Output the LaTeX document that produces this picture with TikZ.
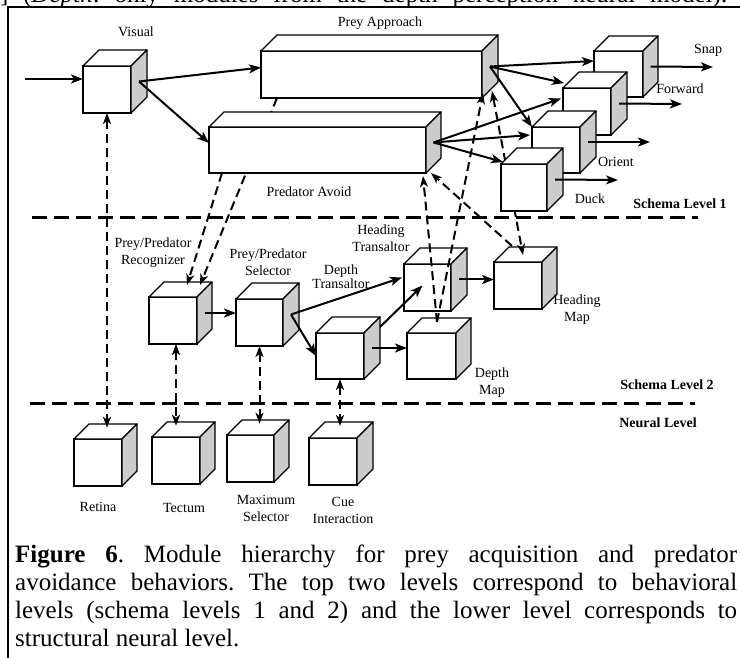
\documentclass[tikz,border=0pt]{standalone}
\usepackage{fontspec}
\setmainfont{Liberation Serif}
\usetikzlibrary{arrows.meta,calc}
\definecolor{sidegrey}{RGB}{204,204,204}
\tikzset{
  face/.style={draw, fill=white, line width=1.3pt, inner sep=0pt, outer sep=0pt, rectangle},
  edge/.style={line width=1.3pt, line join=round},
  flow/.style={line width=2pt, -{Stealth[length=12pt,width=9pt,inset=3pt]}},
  link/.style={line width=2pt, dash pattern=on 9pt off 5pt, -{Stealth[length=11pt,width=8pt,inset=3pt]}},
  twolink/.style={line width=2pt, dash pattern=on 9pt off 5pt,
    {Stealth[length=11pt,width=8pt,inset=3pt]}-{Stealth[length=11pt,width=8pt,inset=3pt]}},
  level/.style={line width=3pt, dash pattern=on 15pt off 7pt},
  frame/.style={line width=2pt},
  lbl/.style={font=\fontsize{14}{17}\selectfont, align=center, inner sep=0pt},
  tag/.style={font=\fontsize{14}{17}\selectfont\bfseries, inner sep=0pt},
  captext/.style={font=\fontsize{25}{28}\selectfont\frenchspacing, inner sep=0pt, anchor=base west},
}
% a module drawn as a cube: name, front-face corners (x1,y1)-(x2,y2), depth
\newcommand\modcube[6]{%
  \node[face, minimum width={(#4-#2)*1pt}, minimum height={(#5-#3)*1pt}]
    (#1) at ({(#2+#4)/2},{(#3+#5)/2}) {};
  \draw[edge, fill=white] (#1.north west) -- ++(#6,-#6) -- ++(#4-#2,0) -- (#1.north east) -- cycle;
  \draw[edge, fill=sidegrey] (#1.north east) -- ++(#6,-#6) -- ++(0,#5-#3) -- (#1.south east) -- cycle;
  \coordinate (#1-s) at ($(#1.east)+(#6/2,-#6/2)$);
  \coordinate (#1-t) at ($(#1.north)+(#6/2,-0.75*#6)$);
}
\newcommand\capline[1]{\makebox[722pt][s]{#1}}

\begin{document}
\begin{tikzpicture}[x=1pt,y=-1pt]
\useasboundingbox (0,0) rectangle (740,658);

% text line running above the frame
\begin{scope}
  \clip (0,0) rectangle (740,7);
  \node[captext] (runon) at (0,2.5) {\makebox[727pt][s]{] (\textit{Depth}: only modules from the depth perception neural model).}};
\end{scope}

% frame
\draw[frame] (8,658) -- (8,7) -- (740,7);

% level separators
\draw[level] (32,218) -- (698,218);
\draw[level] (30,403) -- (695,403);

% schema level 2 modules
\modcube{rec}{149}{297}{197}{344}{15}
\modcube{sel}{236}{299}{283}{346}{16}
\modcube{dtr}{316}{333}{364}{379}{16}
\modcube{ht}{404}{264}{451}{311}{16}
\modcube{hm}{494}{262}{542}{309}{15}
\modcube{dm}{407}{333}{456}{379}{15}

% neural level modules
\modcube{ret}{74}{439}{122}{486}{15}
\modcube{tec}{152}{437}{200}{484}{15}
\modcube{max}{227}{435}{274}{482}{15}
\modcube{cue}{309}{438}{357}{485}{16}

% schema level 1 modules
\modcube{vis}{83}{66}{131}{113}{16}
\modcube{pra}{261}{51}{482}{98}{16}
\draw[link] ($(pra.south west)+(16,0)$) -- ($(rec.north)+(27,-12)$);
\modcube{pa}{209}{127}{426}{173}{15}
\modcube{snap}{594}{51}{643}{97}{15}
\modcube{fwd}{563}{88}{611}{135}{16}
\modcube{ori}{532}{127}{580}{173}{16}
\draw[twolink] ($(pra.south east)+(10,-7)$) -- ($(hm.north)+(5,-7)$);
\modcube{duck}{501}{164}{547}{211}{16}

% dashed links between levels
\draw[link] ($(pa.south west)+(13,0)$) -- ($(rec.north)+(14,-12)$);
\coordinate (dmtop) at ($(dm.north)+(5.5,-11)$);
\draw[link] (dmtop) -- ($(pa.south east)+(-3,3)$);
\draw[link] (dmtop) -- ($(pra.south east)+(1,-5)$);
\draw[link] ($(hm.north west)+(18,-16)$) -- ($(pa.south east)+(5,0)$);
\draw[twolink] (vis.south) -- (vis.south |- ret-t);
\draw[twolink] (rec.south -| tec.north) -- (tec.north |- tec-t);
\draw[twolink] (sel.south) -- (sel.south |- max-t);
\draw[twolink] (dtr.south) -- (dtr.south |- cue-t);

% schema level 1 flow
\coordinate (input) at (25,79);
\draw[flow] (input) -- ($(vis.west)+(0,-10.5)$);
\draw[flow] (vis-s) -- ($(pra.west)+(0,-7)$);
\draw[flow] (vis-s) -- ($(pa.west)+(0,-7)$);
\draw[flow] (pra-s) -- ($(snap.west)+(0,-13)$);
\draw[flow] (pra-s) -- ($(fwd.north west)+(1,-5)$);
\draw[flow] (pra-s) -- (ori.north west);
\draw[flow] (pa-s) -- ($(fwd.west)+(-2,-13)$);
\draw[flow] (pa-s) -- ($(ori.west)+(-2,-15)$);
\draw[flow] (pa-s) -- ($(duck.north west)+(2,-2)$);

\coordinate (snap-out) at (713,67);
\coordinate (fwd-out) at (682,104);
\coordinate (ori-out) at (650,142);
\coordinate (duck-out) at (618,180);
\draw[flow] (snap-s) -- (snap-out);
\draw[flow] (fwd-s) -- (fwd-out);
\draw[flow] (ori-s) -- (ori-out);
\draw[flow] (duck-s) -- (duck-out);

% schema level 2 flow
\draw[flow] (rec-s) -- (rec-s -| sel.west);
\draw[flow] (sel-s) -- ($(ht.west)+(-2,-10)$);
\draw[flow] (sel-s) -- (dtr.west);
\draw[flow] ($(dtr.north east)+(16,-6)$) -- ($(ht.center)+(-5,-2)$);
\draw[flow] (dtr-s) -- (dtr-s -| dm.west);
\draw[flow] (ht-s) -- (ht-s -| hm.west);

% labels
\node[lbl] (l-vis) at (136,32) {Visual};
\node[lbl] (l-pra) at (380,23) {Prey Approach};
\node[lbl] (l-pa) at (309,192) {Predator Avoid};
\node[lbl] (l-snap) at (708,50) {Snap};
\node[lbl] (l-fwd) at (680,89) {Forward};
\node[lbl] (l-ori) at (616,162) {Orient};
\node[lbl] (l-duck) at (590,199) {Duck};
\node[lbl] (l-rec) at (153,252.5) {Prey/Predator\\Recognizer};
\node[lbl] (l-sel) at (268,262) {Prey/Predator\\Selector};
\node[lbl] (l-ht) at (381,238.5) {Heading\\Transaltor};
\node[lbl, font=\fontsize{14}{12}\selectfont] (l-dtr) at (341,276.5) {Depth\\Transaltor};
\node[lbl] (l-hm) at (577,310) {Heading\\Map};
\node[lbl] (l-dm) at (492,382.5) {Depth\\Map};
\node[lbl] (l-ret) at (98,507) {Retina};
\node[lbl] (l-tec) at (184,508) {Tectum};
\node[lbl] (l-max) at (266,508.5) {Maximum\\Selector};
\node[lbl] (l-cue) at (343,510) {Cue\\Interaction};
\node[tag] (t-1) at (680,204) {Schema Level 1};
\node[tag] (t-2) at (667,385) {Schema Level 2};
\node[tag] (t-n) at (658,423) {Neural Level};

% caption
\node[captext] (cap1) at (15,562) {\capline{\textbf{Figure 6}. Module hierarchy for prey acquisition and predator}};
\node[captext] (cap2) at (15,590) {\capline{avoidance behaviors. The top two levels correspond to behavioral}};
\node[captext] (cap3) at (15,618) {\capline{levels (schema levels 1 and 2) and the lower level corresponds to}};
\node[captext] (cap4) at (15,646) {structural neural level.};
\end{tikzpicture}
\end{document}
